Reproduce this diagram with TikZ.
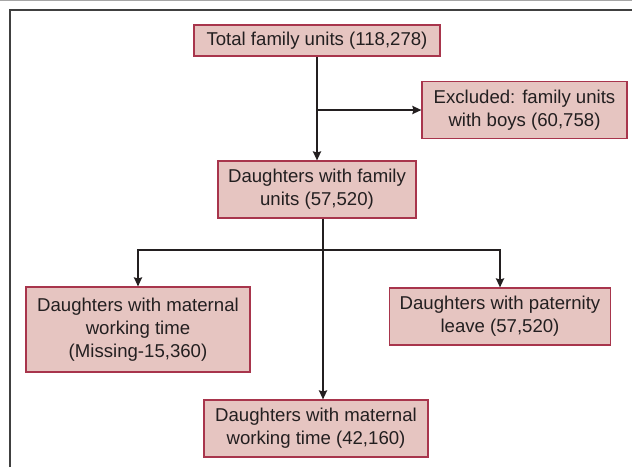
\documentclass[tikz,border=0pt]{standalone}
\usepackage{fontspec}
\setmainfont{Liberation Sans}
\usetikzlibrary{arrows.meta}
\definecolor{boxfill}{HTML}{E6C5C1}
\definecolor{boxline}{HTML}{A8354C}
\definecolor{ink}{HTML}{231F20}
\tikzset{
  box/.style={draw=boxline, line width=1.1pt, fill=boxfill, text=ink, align=center,
    inner sep=0pt, font=\fontsize{18.6}{22.8}\selectfont},
  arr/.style={draw=ink, line width=2pt, -{Stealth[length=9pt,width=8pt,inset=1pt]}},
  frame/.style={draw=black!75, line width=1.4pt}
}
\begin{document}
\begin{tikzpicture}[x=1pt,y=-1pt]
\useasboundingbox (0,0) rectangle (632,467);
\draw[black!35, line width=0.8pt] (0,0.5) -- (632,0.5);
\draw[frame] (10,467) -- (10,10) -- (632,10);

\node[box, minimum width=246pt, minimum height=31pt] (total) at (317,40.5) {Total family units (118,278)};
\node[box, minimum width=205pt, minimum height=57pt] (excl) at (524.5,110) {Excluded: family units\\with boys (60,758)};
\node[box, minimum width=198pt, minimum height=57pt] (fam) at (317,189.5) {Daughters with family\\units (57,520)};
\node[box, minimum width=224pt, minimum height=85pt] (left) at (138,329.5) {Daughters with maternal\\working time\\(Missing-15,360)};
\node[box, minimum width=221pt, minimum height=57pt] (right) at (500,316.5) {Daughters with paternity\\leave (57,520)};
\node[box, minimum width=224pt, minimum height=57pt] (bot) at (316,428.5) {Daughters with maternal\\working time (42,160)};

\draw[arr] (total.south) -- (total.south |- fam.north);
\draw[arr] (total.south |- excl.west) -- (excl.west);

\coordinate (stem) at (323,250);
\draw[arr] (stem |- fam.south) -- (stem |- bot.north);
\draw[arr] (stem) -| (left.north);
\draw[arr] (stem) -| (right.north);
\end{tikzpicture}
\end{document}
